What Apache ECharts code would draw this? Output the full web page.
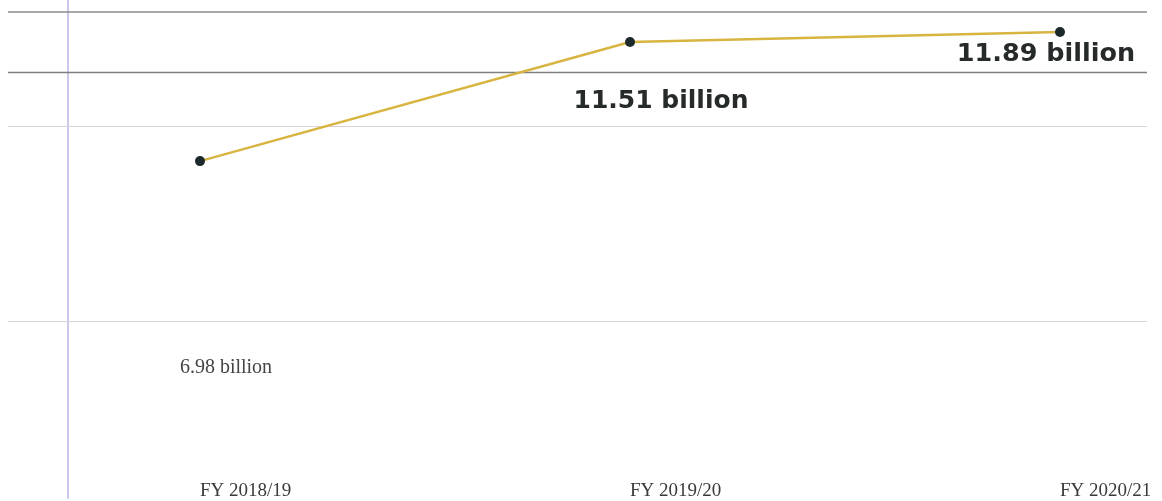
<!DOCTYPE html>
<html>
<head>
<meta charset="utf-8">
<style>
  html, body { margin: 0; padding: 0; background: #ffffff; }
  #chart { width: 1162px; height: 501px; }
</style>
<script src="https://cdn.jsdelivr.net/npm/echarts@6/dist/echarts.min.js"></script>
</head>
<body>
<div id="chart"></div>
<script>
// ---- data ----
const categories = ['FY 2018/19', 'FY 2019/20', 'FY 2020/21'];
const revenueBillions = [6.98, 11.51, 11.89];
const gridLevels = [12.66, 10.35, 8.31, 0.90];
const unitSuffix = ' billion';

// ---- styling helpers ----
const gridLineColors = ['#8c8c8c', '#808080', '#ddd3dc', '#ddd3dc'];
const gridLineWidths = [1.5, 1.4, 1, 1];

const labelStyles = [
  { fontFamily: '"Liberation Serif", "Times New Roman", serif', fontSize: 20, fontWeight: 'normal', color: '#444444', offset: [26, 207] },
  { fontFamily: '"DejaVu Sans", Verdana, sans-serif', fontSize: 25, fontWeight: 'bold', color: '#262a2b', offset: [31, 59] },
  { fontFamily: '"DejaVu Sans", Verdana, sans-serif', fontSize: 25.5, fontWeight: 'bold', color: '#262a2b', offset: [-14, 22] }
];

const seriesData = revenueBillions.map((v, i) => ({
  value: v,
  label: Object.assign({ show: true, position: 'inside' }, labelStyles[i])
}));

const markLineData = gridLevels.map((v, i) => [
  { x: 8, yAxis: v, lineStyle: { color: gridLineColors[i], width: gridLineWidths[i], type: 'solid' } },
  { x: 1147, yAxis: v }
]);

const chart = echarts.init(document.getElementById('chart'), null, { renderer: 'canvas' });
chart.setOption({
  animation: false,
  backgroundColor: '#ffffff',
  grid: { left: 200, right: 102, top: 0, bottom: 0, containLabel: false },
  xAxis: {
    type: 'category',
    data: categories,
    boundaryGap: false,
    axisLine: { show: false },
    axisTick: { show: false },
    splitLine: { show: false },
    axisLabel: {
      show: true,
      align: 'left',
      margin: -16,
      fontFamily: '"Liberation Serif", "Times New Roman", serif',
      fontSize: 19,
      color: '#3a3a3a'
    }
  },
  yAxis: {
    type: 'value',
    min: -5.84,
    max: 13.11,
    offset: 132,
    axisLine: { show: true, lineStyle: { color: '#cbc8ec', width: 2 } },
    axisTick: { show: false },
    axisLabel: { show: false },
    splitLine: { show: false }
  },
  series: [{
    type: 'line',
    data: seriesData,
    symbol: 'circle',
    symbolSize: 10,
    itemStyle: { color: '#1c2a2c' },
    lineStyle: { color: '#d8b441', width: 2.5 },
    z: 5,
    label: {
      formatter: p => p.value.toFixed(2) + unitSuffix
    },
    markLine: {
      silent: true,
      symbol: 'none',
      label: { show: false },
      animation: false,
      z: 1,
      data: markLineData
    }
  }]
});
</script>
</body>
</html>
